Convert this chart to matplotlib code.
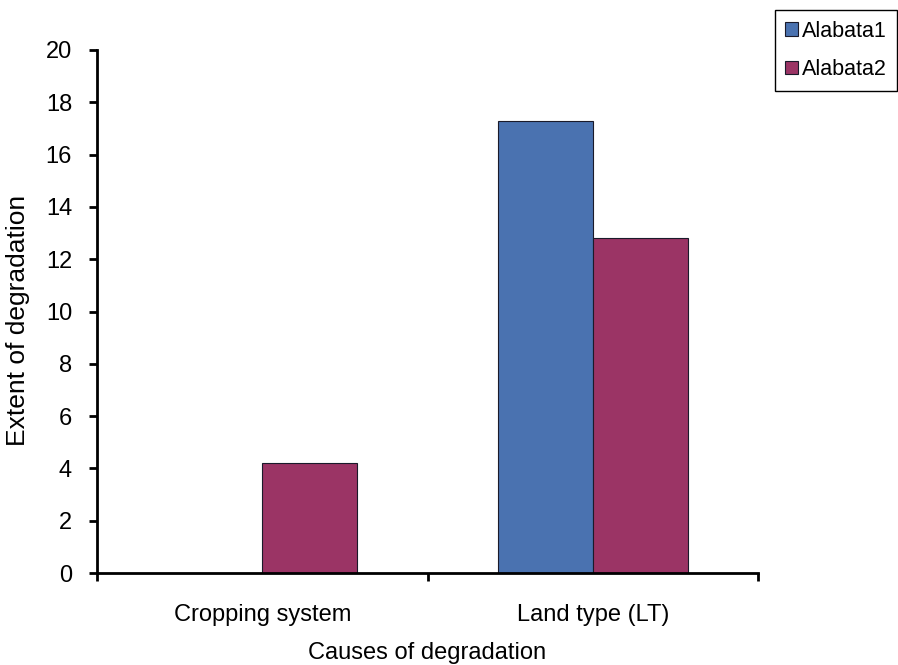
import matplotlib
matplotlib.use("Agg")
import matplotlib.pyplot as plt
import numpy as np

plt.rcParams['font.family'] = ['Liberation Sans', 'DejaVu Sans']

categories = ["Cropping system", "Land type (LT)"]
series_names = ["Alabata1", "Alabata2"]
alabata1 = [0.0, 17.3]
alabata2 = [4.2, 12.8]
yticks = [0, 2, 4, 6, 8, 10, 12, 14, 16, 18, 20]
colors = ["#4A72B0", "#9B3465"]

fig = plt.figure(figsize=(8.98, 6.65), dpi=100)
ax = fig.add_axes([97/898, 1-573/665, (758-97)/898, (573-50)/665])

x = np.arange(len(categories))
w = 0.287
b1 = ax.bar(x - w/2, alabata1, w, color=colors[0], edgecolor="#1a1a2a", linewidth=0.8, label=series_names[0])
b2 = ax.bar(x + w/2, alabata2, w, color=colors[1], edgecolor="#1a1a2a", linewidth=0.8, label=series_names[1])

ax.set_xlim(-0.5, len(categories) - 0.5)
ax.set_ylim(0, 20)
ax.set_yticks(yticks)
ax.set_yticklabels([str(t) for t in yticks], fontsize=17)

ax.set_xticks(x)
ax.set_xticklabels(categories, fontsize=17)
ax.tick_params(axis='x', which='major', length=0, pad=22)
ax.set_xticks(np.arange(-0.5, len(categories)), minor=True)
ax.tick_params(axis='x', which='minor', length=6, width=2, direction='out')
ax.tick_params(axis='y', length=6, width=2, direction='out', pad=12)

for s in ['top', 'right']:
    ax.spines[s].set_visible(False)
for s in ['left', 'bottom']:
    ax.spines[s].set_linewidth(2)
    ax.spines[s].set_color('black')

ax.set_xlabel("Causes of degradation", fontsize=17, labelpad=12)
ax.set_ylabel("Extent of degradation", fontsize=19)
ax.yaxis.set_label_coords(-0.101, 0.482)

leg = fig.legend(handles=[b1, b2], labels=series_names, loc='upper right',
                 bbox_to_anchor=(0.999, 0.985), fontsize=15.5, fancybox=False,
                 edgecolor='black', framealpha=1, handlelength=0.6, handleheight=0.6,
                 handletextpad=0.15, borderpad=0.5, labelspacing=0.8, borderaxespad=0)
leg.get_frame().set_linewidth(1)

fig.savefig("out.png", dpi=100)
